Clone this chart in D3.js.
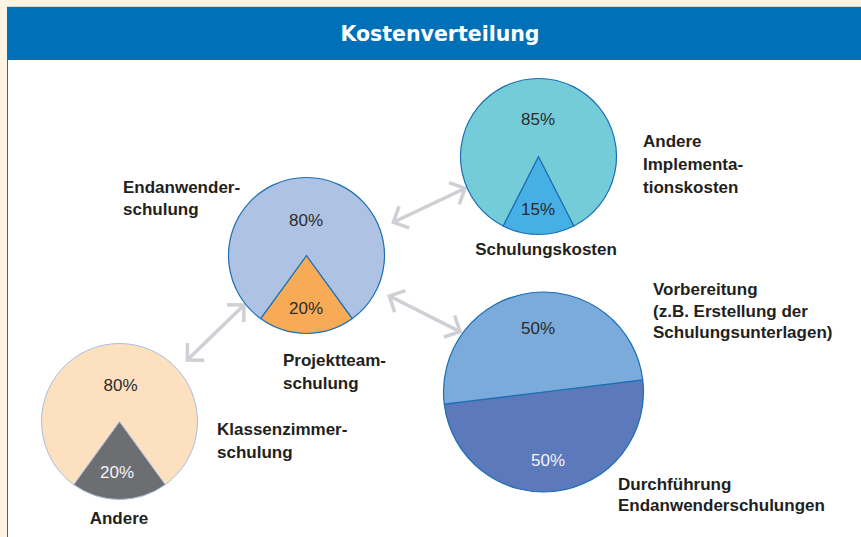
<!DOCTYPE html>
<html>
<head>
<meta charset="utf-8">
<script src="https://cdn.jsdelivr.net/npm/d3@7"></script>
<style>
  html, body { margin: 0; padding: 0; background: #fdf4e1; }
  svg { display: block; }
</style>
</head>
<body>
<svg id="chart" width="861" height="537"></svg>
<script>
// ---------- data ----------
const title = "Kostenverteilung";

const klassenzimmerShares = [20, 80];      // [Andere, Klassenzimmerschulung]
const endanwenderShares   = [20, 80];      // [Projektteamschulung, Endanwenderschulung]
const implementShares     = [15, 85];      // [Schulungskosten, Andere Implementationskosten]
const schulungShares      = [50, 50];      // [Durchführung, Vorbereitung]

const klassenzimmerLabels = [["Andere"], ["Klassenzimmer-", "schulung"]];
const endanwenderLabels   = [["Projektteam-", "schulung"], ["Endanwender-", "schulung"]];
const implementLabels     = [["Schulungskosten"], ["Andere", "Implementa-", "tionskosten"]];
const schulungLabels      = [["Durchführung", "Endanwenderschulungen"], ["Vorbereitung", "(z.B. Erstellung der", "Schulungsunterlagen)"]];

// ---------- layout / style ----------
const W = 861, H = 537;
const svg = d3.select("#chart");

const pies = [
  { shares: klassenzimmerShares, labels: klassenzimmerLabels,
    cx: 119.5, cy: 421.5, r: 78, rot: 0,
    colors: ["#6d6e72", "#fde0c0"], stroke: "#a9bedb", sw: 1,
    pctColors: ["#f4f4f4", "#2b2b2b"],
    pctPos: [[117, 477.5], [120.5, 391]],
    labelPos: [{x: 119, y: 524, anchor: "middle", dy: 23}, {x: 217, y: 435, anchor: "start", dy: 23}] },
  { shares: endanwenderShares, labels: endanwenderLabels,
    cx: 306.5, cy: 255.5, r: 78, rot: 0,
    colors: ["#f8ab56", "#aec3e3"], stroke: "#1b6fb5", sw: 1.2,
    pctColors: ["#2b2b2b", "#2b2b2b"],
    pctPos: [[306, 314], [306, 225.5]],
    labelPos: [{x: 283, y: 366, anchor: "start", dy: 22.5}, {x: 123, y: 193, anchor: "start", dy: 22}] },
  { shares: implementShares, labels: implementLabels,
    cx: 538.5, cy: 156.5, r: 78, rot: 0,
    colors: ["#46b0e4", "#75ccd9"], stroke: "#1b6fb5", sw: 1.2,
    pctColors: ["#2b2b2b", "#2b2b2b"],
    pctPos: [[538, 215], [538, 125]],
    labelPos: [{x: 546, y: 255, anchor: "middle", dy: 22}, {x: 643, y: 147, anchor: "start", dy: 23}] },
  { shares: schulungShares, labels: schulungLabels,
    cx: 543.5, cy: 392, r: 100, rot: -7,
    colors: ["#5b79bb", "#7aabdb"], stroke: "#1b6fb5", sw: 1.2,
    pctColors: ["#f4f4f4", "#2b2b2b"],
    pctPos: [[548, 466], [538, 333.5]],
    labelPos: [{x: 618, y: 489.5, anchor: "start", dy: 21}, {x: 653, y: 295, anchor: "start", dy: 21.5}] }
];

const arrows = [
  { x1: 187.3, y1: 360, x2: 244, y2: 305 },
  { x1: 393.3, y1: 222.3, x2: 465, y2: 188.3 },
  { x1: 389.3, y1: 296, x2: 460, y2: 331.7 }
];

const labelFont = "'Liberation Sans', Arial, sans-serif";

// ---------- background / header ----------
svg.append("rect").attr("x", 0).attr("y", 0).attr("width", W).attr("height", H).attr("fill", "#fdf4e1");
svg.append("line").attr("x1", 7).attr("x2", W).attr("y1", 6.5).attr("y2", 6.5)
  .attr("stroke", "#d9d6cc").attr("stroke-width", 1);
svg.append("rect").attr("x", 7).attr("y", 7).attr("width", W - 7).attr("height", 53).attr("fill", "#0071b8");
svg.append("rect").attr("x", 8).attr("y", 60).attr("width", W - 8).attr("height", H - 60).attr("fill", "#ffffff");
svg.append("line").attr("x1", 7.5).attr("x2", 7.5).attr("y1", 60).attr("y2", H)
  .attr("stroke", "#1a6fb5").attr("stroke-width", 1);
svg.append("text").attr("x", 440).attr("y", 41).attr("text-anchor", "middle")
  .attr("font-family", "'DejaVu Sans', sans-serif").attr("font-weight", "bold")
  .attr("font-size", 20.5).attr("fill", "#ffffff").text(title);

// ---------- arrows ----------
const arrowG = svg.append("g").attr("fill", "none").attr("stroke", "#cfd0d5")
  .attr("stroke-width", 3.5).attr("stroke-linejoin", "miter");
const armLen = 17;
function chevron(tx, ty, ang) {
  // ang: direction the tip points to (radians)
  const a1 = ang + Math.PI - Math.PI / 4, a2 = ang + Math.PI + Math.PI / 4;
  const p = d3.path();
  p.moveTo(tx + armLen * Math.cos(a1), ty + armLen * Math.sin(a1));
  p.lineTo(tx, ty);
  p.lineTo(tx + armLen * Math.cos(a2), ty + armLen * Math.sin(a2));
  return p.toString();
}
arrows.forEach(a => {
  const ang = Math.atan2(a.y2 - a.y1, a.x2 - a.x1);
  const off = 1.8;
  arrowG.append("line")
    .attr("x1", a.x1 + off * Math.cos(ang)).attr("y1", a.y1 + off * Math.sin(ang))
    .attr("x2", a.x2 - off * Math.cos(ang)).attr("y2", a.y2 - off * Math.sin(ang));
  arrowG.append("path").attr("d", chevron(a.x2, a.y2, ang));
  arrowG.append("path").attr("d", chevron(a.x1, a.y1, ang + Math.PI));
});

// ---------- pies ----------
pies.forEach(p => {
  const total = d3.sum(p.shares);
  const smallFrac = p.shares[0] / total;
  const rot = p.rot * Math.PI / 180;
  const start = Math.PI - smallFrac * Math.PI + rot;
  const pie = d3.pie().sort(null).value(d => d)
    .startAngle(start).endAngle(start + 2 * Math.PI);
  const arc = d3.arc().innerRadius(0).outerRadius(p.r);
  const g = svg.append("g").attr("transform", `translate(${p.cx},${p.cy})`);
  g.selectAll("path").data(pie(p.shares)).join("path")
    .attr("d", arc)
    .attr("fill", (d, i) => p.colors[i])
    .attr("stroke", p.stroke).attr("stroke-width", p.sw)
    .attr("stroke-linejoin", "round");

  // percent labels
  p.shares.forEach((v, i) => {
    svg.append("text")
      .attr("x", p.pctPos[i][0]).attr("y", p.pctPos[i][1])
      .attr("text-anchor", "middle")
      .attr("font-family", labelFont).attr("font-size", 17)
      .attr("fill", p.pctColors[i])
      .text(d3.format(".0f")(v / total * 100) + "%");
  });

  // category labels
  p.labels.forEach((lines, i) => {
    const lp = p.labelPos[i];
    const t = svg.append("text")
      .attr("text-anchor", lp.anchor)
      .attr("font-family", labelFont).attr("font-weight", "bold")
      .attr("font-size", 17).attr("fill", "#231f20");
    lines.forEach((ln, j) => {
      t.append("tspan").attr("x", lp.x).attr("y", lp.y + j * lp.dy).text(ln);
    });
  });
});
</script>
</body>
</html>
